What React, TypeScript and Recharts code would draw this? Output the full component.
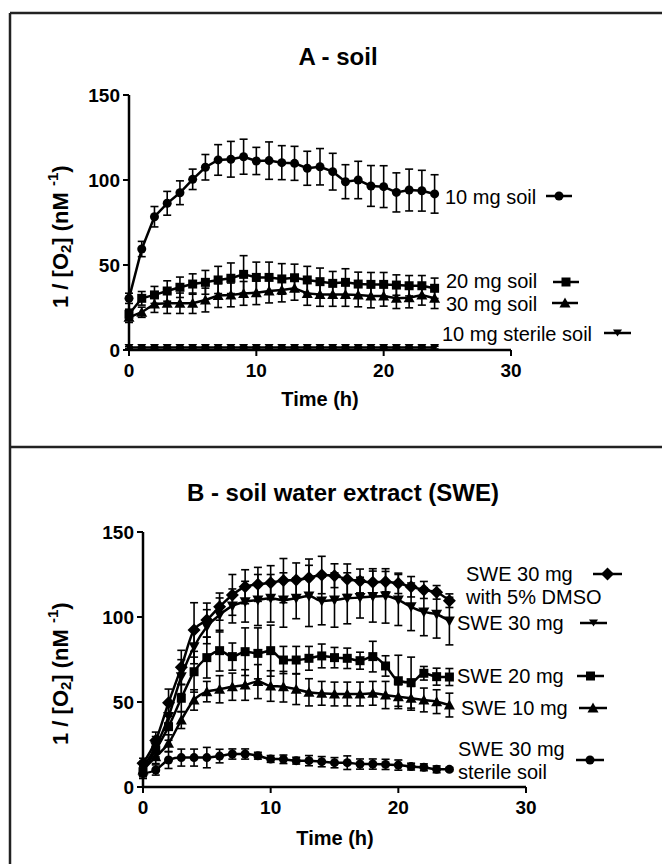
import React from "react";
import { LineChart, Line, XAxis, YAxis, ErrorBar } from "recharts";

const FONT = "'Liberation Sans', Arial, Helvetica, sans-serif";

const hours = [0, 1, 2, 3, 4, 5, 6, 7, 8, 9, 10, 11, 12, 13, 14, 15, 16, 17, 18, 19, 20, 21, 22, 23, 24];
const xTicks = [0, 10, 20, 30];
const yTicks = [0, 50, 100, 150];

// A - soil
const soil10 = [30.4, 59.4, 78.4, 86.3, 92.5, 100.4, 107.5, 111.8, 112.2, 113.7, 111.2, 111.4, 110.2, 109.8, 106.9, 107.8, 104.9, 99, 100, 96.5, 96.1, 92.7, 94.1, 93.7, 91.8];
const soil10Err = [3, 4.5, 6, 7, 7, 6, 7.5, 9, 10.5, 10.3, 8, 11, 10, 10, 10, 10.7, 10.8, 10, 11, 12, 12.3, 11.5, 12.3, 12, 11.3];
const soil20 = [21, 30.4, 32.4, 34.7, 36.9, 38.8, 39.8, 41.2, 42.2, 44.5, 42.7, 42.7, 41.8, 42.5, 41.2, 40.2, 39.2, 39.8, 38.8, 38.6, 38.6, 38.2, 37.8, 37.8, 36.3];
const soil20Err = [3, 4, 5, 6, 6, 6, 7, 8, 9, 11, 9, 9, 9, 8, 8, 8, 7, 8, 7, 7, 7, 6, 6, 6, 6];
const soil30 = [19.2, 22.2, 27.1, 27.5, 27.5, 27.5, 29.4, 32, 32.4, 33.3, 33.7, 34.7, 35.3, 36.3, 33.3, 32.7, 32.7, 32.7, 32.4, 31.8, 31.8, 30.4, 30.8, 32.4, 30.4];
const soil30Err = [3, 3, 5, 6, 6, 6, 7, 7, 7, 7, 7, 7, 7, 7, 7, 7, 7, 7, 7, 7, 6, 6, 6, 6, 6];
const sterile10 = [1.4, 1.4, 1.4, 1.4, 1.4, 1.4, 1.4, 1.4, 1.4, 1.4, 1.4, 1.4, 1.4, 1.4, 1.4, 1.4, 1.4, 1.4, 1.4, 1.4, 1.4, 1.4, 1.4, 1.4, 1.4];
const sterile10Err = [0.6, 0.6, 0.6, 0.6, 0.6, 0.6, 0.6, 0.6, 0.6, 0.6, 0.6, 0.6, 0.6, 0.6, 0.6, 0.6, 0.6, 0.6, 0.6, 0.6, 0.6, 0.6, 0.6, 0.8, 0.8];

// B - soil water extract
const sweDmso = [13.9, 27.3, 49.6, 70.4, 92.4, 98.2, 106.1, 113, 117.8, 119.2, 120.2, 121.4, 121.8, 123.1, 124.7, 124.3, 122.2, 121.2, 120.4, 120.8, 119.8, 117.8, 115.9, 114.5, 109.6];
const sweDmsoErr = [3, 5, 8, 10, 16, 10, 8, 12, 10, 10, 10, 13, 10, 11, 11, 7, 9, 7, 8, 6, 6, 6, 5, 4, 4];
const swe30 = [12, 23.7, 41.4, 64.9, 82.5, 94.3, 101.2, 106.5, 109, 110, 111, 110, 111, 112.4, 109.4, 110, 111, 111.4, 112, 112.4, 110, 106, 103, 101.6, 97.6];
const swe30Err = [3, 6, 8, 10, 10, 10, 10, 10, 12, 15, 14, 16, 12, 18, 14, 16, 15, 12, 15, 16, 15, 14, 14, 14, 14];
const swe20 = [9, 21.8, 35.5, 52.2, 67.8, 76.1, 80.2, 76.7, 79.6, 78.6, 80.2, 74.7, 74.7, 75.7, 77.1, 76.1, 75.7, 74.3, 76.7, 71.2, 62.5, 61.4, 66.9, 64.9, 64.7];
const swe20Err = [3, 5, 8, 8, 12, 12, 12, 8, 14, 15, 15, 8, 8, 7, 7, 6, 6, 5, 9, 6, 15, 15, 4, 5, 5];
const swe10 = [10, 17.8, 25.7, 39.4, 51.2, 56.1, 57.5, 59, 60, 62, 59.4, 59, 57.5, 55.7, 55.1, 54.7, 54.7, 54.7, 55.1, 54.1, 53.1, 52.2, 51.2, 50.2, 48.2];
const swe10Err = [3, 4, 5, 5, 6, 6, 8, 8, 9, 10, 9, 9, 9, 8, 7, 7, 7, 7, 7, 8, 7, 7, 7, 7, 7];
const sweSterile = [8, 10, 15.9, 17.3, 17.3, 17.3, 18.2, 19.4, 19.4, 18.4, 16.5, 16.3, 15.5, 15.5, 14.9, 14.3, 14.3, 13.5, 13.5, 13.3, 12.9, 12, 11.6, 10.4, 10.4];
const sweSterileErr = [3, 3, 5, 5, 5, 6, 4, 3, 3, 2, 2, 2.5, 2, 3, 3, 3, 4, 3, 3, 3, 3, 2, 2, 2, 1];

const dataA = hours.map((h, i) => ({
  h,
  s10: soil10[i], s10e: soil10Err[i],
  s20: soil20[i], s20e: soil20Err[i],
  s30: soil30[i], s30e: soil30Err[i],
  st: sterile10[i], ste: sterile10Err[i],
}));

const dataB = hours.map((h, i) => ({
  h,
  dm: sweDmso[i], dme: sweDmsoErr[i],
  w30: swe30[i], w30e: swe30Err[i],
  w20: swe20[i], w20e: swe20Err[i],
  w10: swe10[i], w10e: swe10Err[i],
  ws: sweSterile[i], wse: sweSterileErr[i],
}));

type Shape = "circle" | "square" | "up" | "down" | "diamond" | "smalldown";

function marker(shape: Shape, cx: number, cy: number, key?: string) {
  const f = "#000";
  if (shape === "circle") return <circle key={key} cx={cx} cy={cy} r={4.5} fill={f} />;
  if (shape === "square") return <rect key={key} x={cx - 4.5} y={cy - 4.5} width={9} height={9} fill={f} />;
  if (shape === "up")
    return <polygon key={key} points={`${cx},${cy - 5.5} ${cx - 5.5},${cy + 4.5} ${cx + 5.5},${cy + 4.5}`} fill={f} />;
  if (shape === "down")
    return <polygon key={key} points={`${cx - 5.5},${cy - 4.5} ${cx + 5.5},${cy - 4.5} ${cx},${cy + 5.5}`} fill={f} />;
  if (shape === "smalldown")
    return <polygon key={key} points={`${cx - 4.5},${cy - 3.5} ${cx + 4.5},${cy - 3.5} ${cx},${cy + 3.5}`} fill={f} />;
  return (
    <polygon key={key} points={`${cx},${cy - 6.5} ${cx + 6.5},${cy} ${cx},${cy + 6.5} ${cx - 6.5},${cy}`} fill={f} />
  );
}

function dotFor(shape: Shape, name: string) {
  return (p: any) => marker(shape, p.cx, p.cy, `${name}-${p.index}`);
}

const axisLine = { stroke: "#000", strokeWidth: 2.5 };
const tickLine = { stroke: "#000", strokeWidth: 2 };
const tickStyle = { fill: "#000", fontSize: 19, fontWeight: "bold" as const, fontFamily: FONT };

function series(key: string, errKey: string, shape: Shape, curve: any) {
  return (
    <Line
      key={key}
      type={curve}
      dataKey={key}
      stroke="#000"
      strokeWidth={2.5}
      dot={dotFor(shape, key)}
      activeDot={false}
      isAnimationActive={false}
    >
      <ErrorBar dataKey={errKey} direction="y" width={4} strokeWidth={1.6} stroke="#000" isAnimationActive={false} />
    </Line>
  );
}

function Axes() {
  return [
    <XAxis
      key="x"
      type="number"
      dataKey="h"
      domain={[0, 30]}
      ticks={xTicks}
      interval={0}
      height={60}
      tickSize={6}
      tickMargin={8}
      axisLine={axisLine}
      tickLine={tickLine}
      tick={tickStyle}
    />,
    <YAxis
      key="y"
      type="number"
      domain={[0, 150]}
      ticks={yTicks}
      interval={0}
      width={60}
      tickSize={6}
      tickMargin={3}
      axisLine={axisLine}
      tickLine={tickLine}
      tick={tickStyle}
    />,
  ];
}

// rotated axis title, drawn from its bottom end upwards
function YLabel({ x, y }: { x: number; y: number }) {
  return (
    <text
      transform={`translate(${x},${y}) rotate(-90)`}
      textAnchor="start"
      dominantBaseline="central"
      fontSize={22}
      fontWeight="bold"
      fontFamily={FONT}
    >
      <tspan>1 / [O</tspan>
      <tspan fontSize={15} baselineShift="-5">2</tspan>
      <tspan>] (nM </tspan>
      <tspan fontSize={15} baselineShift="8">-1</tspan>
      <tspan>)</tspan>
    </text>
  );
}

function LegendItem({ lines, x, y, lx1, lx2, ly, shape }: { lines: string[]; x: number; y: number; lx1: number; lx2: number; ly: number; shape: Shape }) {
  return (
    <g>
      {lines.map((t, i) => (
        <text key={t} x={x} y={y + i * 23} dominantBaseline="central" fontSize={20} fontFamily={FONT} fill="#000">
          {t}
        </text>
      ))}
      <line x1={lx1} x2={lx2} y1={ly} y2={ly} stroke="#000" strokeWidth={2.5} />
      {marker(shape, (lx1 + lx2) / 2, ly)}
    </g>
  );
}

export default function App() {
  return (
    <div style={{ position: "absolute", left: 0, top: 0, width: 662, height: 864, background: "#fff", fontFamily: FONT }}>
      <div style={{ position: "absolute", left: 0, top: 0 }}>
        <LineChart width={662} height={447} data={dataA} margin={{ top: 95, right: 151, bottom: 37, left: 69 }}>
          {Axes()}
          {series("s10", "s10e", "circle", "linear")}
          {series("s20", "s20e", "square", "linear")}
          {series("s30", "s30e", "up", "linear")}
          {series("st", "ste", "smalldown", "linear")}
        </LineChart>
      </div>
      <div style={{ position: "absolute", left: 0, top: 447 }}>
        <LineChart width={662} height={417} data={dataB} margin={{ top: 85, right: 136, bottom: 17, left: 83 }}>
          {Axes()}
          {series("dm", "dme", "diamond", "monotone")}
          {series("w30", "w30e", "down", "monotone")}
          {series("w20", "w20e", "square", "monotone")}
          {series("w10", "w10e", "up", "monotone")}
          {series("ws", "wse", "circle", "monotone")}
        </LineChart>
      </div>
      <svg width={662} height={864} style={{ position: "absolute", left: 0, top: 0, pointerEvents: "none" }}>
        <line x1={10} y1={13} x2={662} y2={13} stroke="#222" strokeWidth={2.5} />
        <line x1={10} y1={13} x2={10} y2={864} stroke="#222" strokeWidth={2.5} />
        <line x1={10} y1={447} x2={662} y2={447} stroke="#222" strokeWidth={2.5} />

        <text x={338} y={56} textAnchor="middle" dominantBaseline="central" fontSize={24} fontWeight="bold" fontFamily={FONT}>
          A - soil
        </text>
        <text x={343} y={492} textAnchor="middle" dominantBaseline="central" fontSize={24} fontWeight="bold" fontFamily={FONT}>
          B - soil water extract (SWE)
        </text>

        <text x={320} y={399} textAnchor="middle" dominantBaseline="central" fontSize={20} fontWeight="bold" fontFamily={FONT}>
          Time (h)
        </text>
        <text x={335} y={838} textAnchor="middle" dominantBaseline="central" fontSize={20} fontWeight="bold" fontFamily={FONT}>
          Time (h)
        </text>

        <YLabel x={60} y={308} />
        <YLabel x={60} y={745} />

        <LegendItem lines={["10 mg soil"]} x={445} y={197} lx1={546} lx2={572} ly={196} shape="circle" />
        <LegendItem lines={["20 mg soil"]} x={446} y={281} lx1={553} lx2={579} ly={282} shape="square" />
        <LegendItem lines={["30 mg soil"]} x={446} y={304} lx1={552} lx2={578} ly={303} shape="up" />
        <LegendItem lines={["10 mg sterile soil"]} x={442} y={334} lx1={604} lx2={631} ly={333} shape="smalldown" />

        <LegendItem lines={["SWE 30 mg", "with 5% DMSO"]} x={466} y={574} lx1={593} lx2={622} ly={574} shape="diamond" />
        <LegendItem lines={["SWE 30 mg"]} x={457} y={623} lx1={580} lx2={607} ly={623} shape="smalldown" />
        <LegendItem lines={["SWE 20 mg"]} x={457} y={676} lx1={577} lx2={604} ly={676} shape="square" />
        <LegendItem lines={["SWE 10 mg"]} x={461} y={708} lx1={579} lx2={607} ly={708} shape="up" />
        <LegendItem lines={["SWE 30 mg", "sterile soil"]} x={458} y={749} lx1={576} lx2={604} ly={760} shape="circle" />
      </svg>
    </div>
  );
}
